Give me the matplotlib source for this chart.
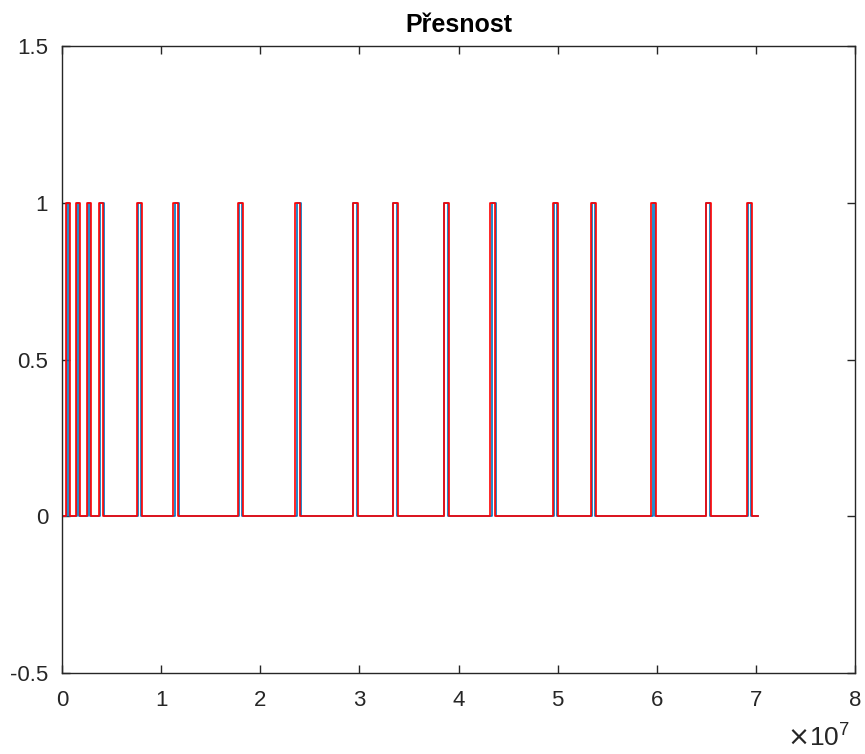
import numpy as np
import matplotlib.pyplot as plt
from matplotlib.ticker import FuncFormatter

plt.rcParams['font.family'] = ['Liberation Sans', 'DejaVu Sans']

# pulse edges (samples), red = detected, blue = reference
red_start = [0.040, 0.141, 0.252, 0.373, 0.757, 1.120, 1.776, 2.350, 2.936,
             3.339, 3.854, 4.318, 4.953, 5.337, 5.942, 6.497, 6.911]
red_end = [0.081, 0.182, 0.293, 0.414, 0.807, 1.170, 1.826, 2.400, 2.986,
           3.390, 3.904, 4.368, 5.004, 5.387, 5.993, 6.547, 6.961]
blue_start = [0.050, 0.151, 0.262, 0.383, 0.767, 1.140, 1.786, 2.370, 2.936,
              3.339, 3.854, 4.338, 4.963, 5.347, 5.962, 6.497, 6.921]
blue_end = [0.071, 0.172, 0.283, 0.424, 0.797, 1.180, 1.816, 2.410, 2.976,
            3.380, 3.894, 4.378, 4.994, 5.377, 5.983, 6.537, 6.951]
t_end = 7.02
scale = 1e7


def step_trace(starts, ends, stop):
    xs, ys = [0.0], [0.0]
    for s, e in zip(starts, ends):
        xs += [s, s, e, e]
        ys += [0, 1, 1, 0]
    xs.append(stop)
    ys.append(0)
    return np.array(xs) * scale, np.array(ys)


fig = plt.figure(figsize=(8.65, 7.54), dpi=100)
ax = fig.add_axes([62 / 865, 81 / 754, 793 / 865, 627 / 754])

bx, by = step_trace(blue_start, blue_end, t_end)
rx, ry = step_trace(red_start, red_end, t_end)
ax.plot(bx, by, color=(0, 0.447, 0.741), lw=1.2)
ax.plot(rx, ry, color='red', lw=1.2)

ax.set_xlim(0, 8e7)
ax.set_ylim(-0.5, 1.5)
ax.set_xticks(np.arange(0, 9) * scale)
ax.set_yticks([-0.5, 0, 0.5, 1, 1.5])
ax.xaxis.set_major_formatter(FuncFormatter(lambda v, p: f'{v / scale:g}'))
ax.yaxis.set_major_formatter(FuncFormatter(lambda v, p: f'{v:g}'))
ax.tick_params(direction='in', top=True, right=True, labelsize=16,
               length=6, width=1.0, colors='#262626')
ax.tick_params(axis='x', pad=12)
ax.tick_params(axis='y', pad=10)
for sp in ax.spines.values():
    sp.set_linewidth(1.0)
    sp.set_color('#262626')

ax.set_title('Přesnost', fontsize=18, fontweight='bold', pad=10)
fig.text(850 / 865, 2 / 754, r'$\times\mathregular{10^{7}}$', ha='right',
         va='bottom', fontsize=19, color='#262626')

fig.savefig('out.png', dpi=100)
